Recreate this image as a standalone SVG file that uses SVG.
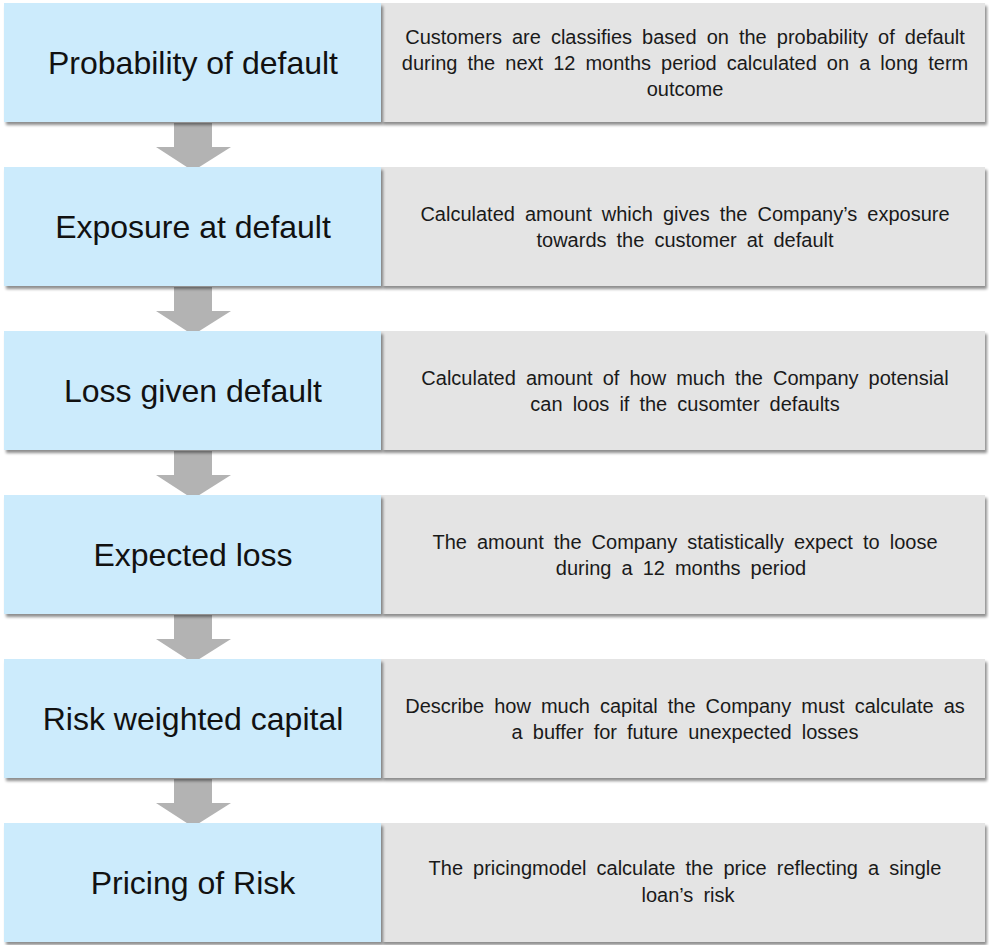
<svg xmlns="http://www.w3.org/2000/svg" width="989" height="945" viewBox="0 0 989 945">
<style>
.blue{fill:#CCEBFC}
.gray{fill:#E4E4E4}
.title{font-family:"Liberation Sans",Arial,sans-serif;font-size:32px;fill:#111;text-anchor:middle}
.desc{font-family:"Liberation Sans",Arial,sans-serif;font-size:20px;fill:#1a1a1a;text-anchor:middle;word-spacing:4.5px}
.arrow{fill:#B3B3B3}
</style>
<defs>
<filter id="sh" x="-5%" y="-10%" width="115%" height="130%">
<feGaussianBlur in="SourceAlpha" stdDeviation="1.5"/>
<feOffset dx="1.5" dy="2.5" result="b"/>
<feComponentTransfer><feFuncA type="linear" slope="0.45"/></feComponentTransfer>
<feMerge><feMergeNode/><feMergeNode in="SourceGraphic"/></feMerge>
</filter>
</defs>
<rect width="989" height="945" fill="#fff"/>
<g id="connectors">
<polygon class="arrow" points="174,123 212,123 212,147 231,147 193,171 156,147 174,147"/>
<polygon class="arrow" points="174,287 212,287 212,311 231,311 193,335 156,311 174,311"/>
<polygon class="arrow" points="174,451 212,451 212,475 231,475 193,499 156,475 174,475"/>
<polygon class="arrow" points="174,615 212,615 212,639 231,639 193,663 156,639 174,639"/>
<polygon class="arrow" points="174,779 212,779 212,803 231,803 193,827 156,803 174,803"/>
</g>
<g id="row1">
<rect class="gray" x="381" y="3" width="604" height="119" filter="url(#sh)"/>
<rect class="blue" x="4" y="3" width="377" height="119" filter="url(#sh)"/>
<text class="title" x="193" y="74">Probability of default</text>
<text class="desc" x="685" y="44">Customers are classifies based on the probability of default</text>
<text class="desc" x="685" y="70">during the next 12 months period calculated on a long term</text>
<text class="desc" x="685" y="96">outcome</text>
</g>
<g id="row2">
<rect class="gray" x="381" y="167" width="604" height="119" filter="url(#sh)"/>
<rect class="blue" x="4" y="167" width="377" height="119" filter="url(#sh)"/>
<text class="title" x="193" y="238">Exposure at default</text>
<text class="desc" x="685" y="221">Calculated amount which gives the Company’s exposure</text>
<text class="desc" x="685" y="247">towards the customer at default</text>
</g>
<g id="row3">
<rect class="gray" x="381" y="331" width="604" height="119" filter="url(#sh)"/>
<rect class="blue" x="4" y="331" width="377" height="119" filter="url(#sh)"/>
<text class="title" x="193" y="402">Loss given default</text>
<text class="desc" x="685" y="385">Calculated amount of how much the Company potensial</text>
<text class="desc" x="685" y="411">can loos if the cusomter defaults</text>
</g>
<g id="row4">
<rect class="gray" x="381" y="495" width="604" height="119" filter="url(#sh)"/>
<rect class="blue" x="4" y="495" width="377" height="119" filter="url(#sh)"/>
<text class="title" x="193" y="566">Expected loss</text>
<text class="desc" x="685" y="549">The amount the Company statistically expect to loose</text>
<text class="desc" x="681" y="575">during a 12 months period</text>
</g>
<g id="row5">
<rect class="gray" x="381" y="659" width="604" height="119" filter="url(#sh)"/>
<rect class="blue" x="4" y="659" width="377" height="119" filter="url(#sh)"/>
<text class="title" x="193" y="730">Risk weighted capital</text>
<text class="desc" x="685" y="713">Describe how much capital the Company must calculate as</text>
<text class="desc" x="685" y="739">a buffer for future unexpected losses</text>
</g>
<g id="row6">
<rect class="gray" x="381" y="823" width="604" height="119" filter="url(#sh)"/>
<rect class="blue" x="4" y="823" width="377" height="119" filter="url(#sh)"/>
<text class="title" x="193" y="894">Pricing of Risk</text>
<text class="desc" x="685" y="875">The pricingmodel calculate the price reflecting a single</text>
<text class="desc" x="688" y="902">loan’s risk</text>
</g>
</svg>
